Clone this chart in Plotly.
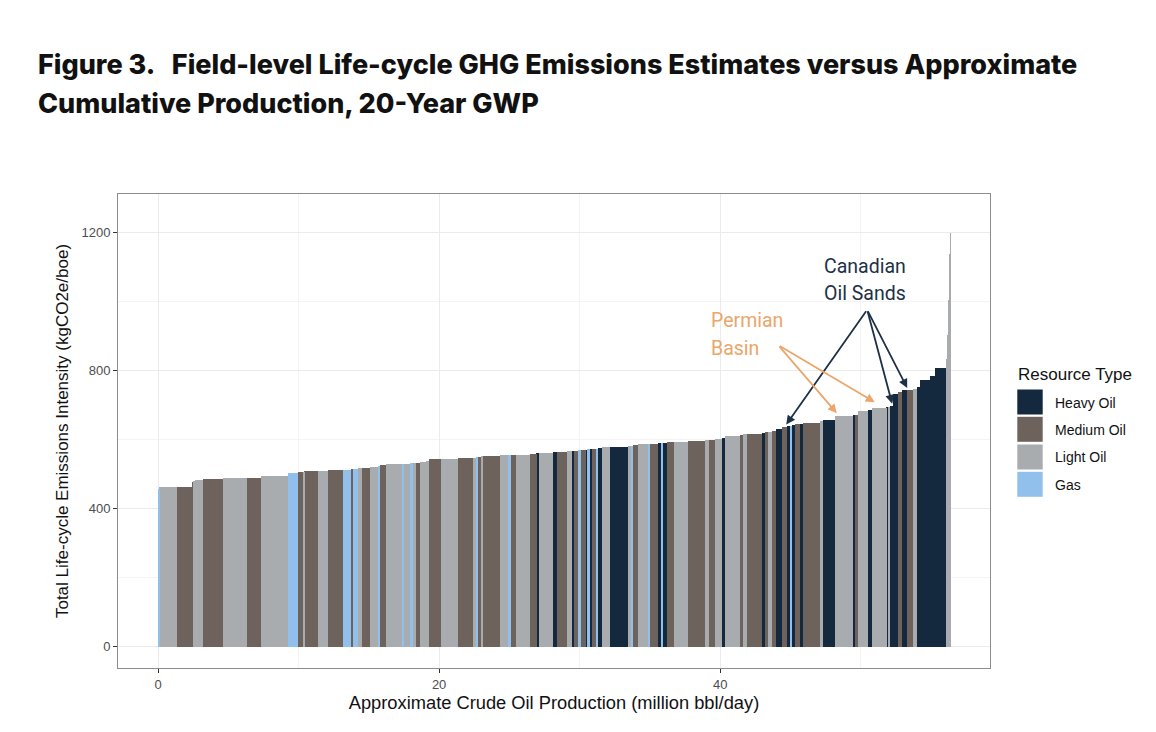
import numpy as np
import plotly.graph_objects as go

# ---------------- data ----------------
resource_types = ["Heavy Oil", "Medium Oil", "Light Oil", "Gas"]
type_codes = {"H": "Heavy Oil", "M": "Medium Oil", "L": "Light Oil", "G": "Gas"}
type_colors = {"Heavy Oil": "#14283e", "Medium Oil": "#6e625c",
               "Light Oil": "#a8acaf", "Gas": "#92c0ec"}

# production of each field (million bbl/day), fields sorted by emissions intensity
production = [0.09, 1.28, 1.02, 0.16, 0.07, 0.59, 1.38, 1.71, 1.02, 1.94,
              0.71, 0.36, 0.07, 1.00, 0.69, 1.05, 0.57, 0.19, 0.36, 0.24,
              0.59, 0.59, 0.12, 0.43, 1.19, 0.09, 0.43, 0.18, 0.25, 0.28,
              0.43, 0.23, 0.83, 1.23, 1.07, 0.19, 0.14, 0.26, 0.11, 1.19,
              0.59, 0.19, 0.36, 1.00, 0.48, 0.14, 1.04, 0.24, 0.71, 0.36,
              0.16, 0.31, 0.17, 0.38, 0.11, 0.14, 0.18, 0.25, 0.18, 0.26,
              0.59, 1.30, 0.24, 0.11, 0.36, 0.71, 0.12, 0.59, 0.24, 0.09,
              0.26, 0.54, 1.00, 1.19, 0.31, 0.41, 0.48, 0.20, 1.10, 0.19,
              0.28, 1.07, 0.23, 0.21, 0.26, 0.31, 0.41, 0.40, 0.19, 0.12,
              0.23, 0.36, 0.19, 1.23, 0.19, 0.88, 1.30, 0.14, 0.21, 0.71,
              0.24, 1.07, 0.13, 0.11, 0.23, 0.36, 0.24, 0.36, 0.47, 0.24,
              0.23, 0.71, 0.36, 0.83, 0.09, 0.07, 0.05, 0.04, 0.02]

# life-cycle emissions intensity (kgCO2e/boe)
intensity = [457, 462, 463, 476, 480, 483, 486, 489, 490, 495,
             504, 507, 507, 508, 510, 512, 513, 514, 516, 517,
             518, 521, 523, 526, 528, 529, 530, 531, 532, 533,
             535, 539, 543, 544, 545, 547, 548, 550, 551, 553,
             554, 555, 556, 556, 559, 560, 562, 563, 564, 566,
             567, 568, 569, 571, 571, 572, 572, 573, 573, 574,
             577, 579, 580, 581, 583, 586, 587, 588, 589, 590,
             591, 593, 594, 596, 598, 599, 602, 605, 609, 613,
             615, 617, 620, 622, 623, 625, 631, 635, 638, 640,
             642, 644, 646, 648, 652, 655, 667, 670, 672, 682,
             686, 691, 694, 695, 698, 732, 737, 742, 744, 747,
             751, 772, 785, 808, 832, 902, 1003, 1137, 1198]

resource_code = ["G", "L", "M", "M", "L", "L", "M", "L", "M", "L",
                 "G", "M", "L", "M", "L", "M", "G", "M", "G", "L",
                 "M", "L", "G", "M", "L", "G", "L", "G", "L", "M",
                 "L", "L", "M", "L", "M", "L", "G", "M", "L", "M",
                 "L", "G", "M", "L", "M", "H", "L", "H", "M", "L",
                 "H", "M", "G", "M", "H", "G", "H", "M", "G", "H",
                 "L", "H", "L", "G", "M", "L", "G", "M", "H", "G",
                 "H", "M", "L", "M", "L", "M", "L", "H", "L", "M",
                 "L", "M", "H", "M", "L", "M", "H", "M", "H", "G",
                 "H", "M", "H", "M", "L", "H", "L", "H", "M", "L",
                 "H", "L", "H", "L", "H", "H", "M", "H", "M", "L",
                 "H", "H", "H", "H", "L", "L", "L", "L", "L"]

x_ticks = [0, 20, 40]
y_ticks = [0, 400, 800, 1200]

title_lines = ["Figure 3.   Field-level Life-cycle GHG Emissions Estimates versus Approximate",
               "Cumulative Production, 20-Year GWP"]

# ---------------- derived ----------------
w = np.array(production)
left = np.concatenate([[0.0], np.cumsum(w)[:-1]])
centre = left + w / 2
vals = np.array(intensity)
names = np.array([type_codes[c] for c in resource_code])

fig = go.Figure()
for rt in resource_types:
    m = names == rt
    fig.add_trace(go.Bar(
        x=centre[m], y=vals[m], width=w[m], name=rt,
        marker=dict(color=type_colors[rt], line=dict(width=0)),
        showlegend=False, hoverinfo="x+y+name"))

# ---------------- layout helpers (screen pixels -> paper) ----------------
BODY = 8                      # default page margin of the html body
W, H = 1156 - BODY, 732 - BODY
L_, R_, T_, B_ = 118, 990, 194, 668   # plot area in screen pixels
def px(xp):
    return (xp - L_) / (R_ - L_)
def py(yp):
    return (B_ - yp) / (B_ - T_)

FONT = "Liberation Sans"
annotations = []
# title
for line, yc in zip(title_lines, [64, 103]):
    annotations.append(dict(text=line, xref="paper", yref="paper",
                            x=px(36), y=py(yc), xanchor="left", yanchor="middle",
                            showarrow=False,
                            font=dict(family="Inter", size=27, weight=800, color="#111111")))

# callouts
dark = "#1d3146"
orange = "#eaa66b"
for txt, yy in [("Canadian", 1099), ("Oil Sands", 1021)]:
    annotations.append(dict(text=txt, x=47.26, y=yy, xref="x", yref="y", xanchor="left",
                            yanchor="middle", showarrow=False,
                            font=dict(family="Roboto", size=19.5, color=dark)))
for txt, yy in [("Permian", 943), ("Basin", 862)]:
    annotations.append(dict(text=txt, x=39.2, y=yy, xref="x", yref="y", xanchor="left",
                            yanchor="middle", showarrow=False,
                            font=dict(family="Roboto", size=19.5, color=orange)))
for tx, ty in [(44.7, 643), (52.24, 703), (53.31, 749)]:
    annotations.append(dict(text="", x=tx, y=ty, ax=50.46, ay=975, xref="x", yref="y",
                            axref="x", ayref="y", showarrow=True, arrowhead=2,
                            arrowsize=1, arrowwidth=1.8, arrowcolor=dark))
for tx, ty in [(48.3, 676), (51.0, 708)]:
    annotations.append(dict(text="", x=tx, y=ty, ax=44.13, ay=873, xref="x", yref="y",
                            axref="x", ayref="y", showarrow=True, arrowhead=2,
                            arrowsize=1, arrowwidth=1.8, arrowcolor=orange))

# manual legend
shapes = []
annotations.append(dict(text="Resource Type", xref="paper", yref="paper", x=px(1016), y=py(374),
                        xanchor="left", yanchor="middle", showarrow=False,
                        font=dict(family=FONT, size=17, color="#111111")))
key_tops = [389.5, 416.8, 444.5, 471.8]
for rt, top in zip(resource_types, key_tops):
    shapes.append(dict(type="rect", xref="paper", yref="paper", x0=px(1017.3), x1=px(1042.7),
                       y0=py(top + 25), y1=py(top), fillcolor=type_colors[rt],
                       line=dict(width=0), layer="above"))
    annotations.append(dict(text=rt, xref="paper", yref="paper", x=px(1053), y=py(top + 13),
                            xanchor="left", yanchor="middle", showarrow=False,
                            font=dict(family=FONT, size=14, color="#111111")))

axis_common = dict(showgrid=True, gridcolor="#ebebeb", gridwidth=1, zeroline=False,
                   ticks="outside", ticklen=4, tickwidth=1, tickcolor="#333333",
                   showline=True, mirror=True, linecolor="#8c8c8c", linewidth=1,
                   tickfont=dict(family=FONT, size=13, color="#4d4d4d"))

fig.update_layout(
    width=W, height=H,
    margin=dict(l=L_ - BODY, r=1156 - R_, t=T_ - BODY, b=732 - B_, autoexpand=False),
    paper_bgcolor="white", plot_bgcolor="white",
    barmode="overlay", bargap=0,
    font=dict(family=FONT, color="#111111"),
    xaxis=dict(range=[-2.85, 59.2], tickvals=x_ticks, ticktext=[str(v) for v in x_ticks],
               minor=dict(tickvals=[10, 30, 50], showgrid=True, gridcolor="#f4f4f4", ticks=""),
               title=dict(text="Approximate Crude Oil Production (million bbl/day)",
                          font=dict(family=FONT, size=18.3, color="#111111"), standoff=4),
               **axis_common),
    yaxis=dict(range=[-61, 1310], tickvals=y_ticks, ticktext=[str(v) for v in y_ticks],
               minor=dict(tickvals=[200, 600, 1000], showgrid=True, gridcolor="#f4f4f4", ticks=""),
               title=dict(text="Total Life-cycle Emissions Intensity (kgCO2e/boe)",
                          font=dict(family=FONT, size=17, color="#111111"), standoff=8),
               **axis_common),
    annotations=annotations,
    shapes=shapes,
    showlegend=False,
)

fig.write_html("out.html")
